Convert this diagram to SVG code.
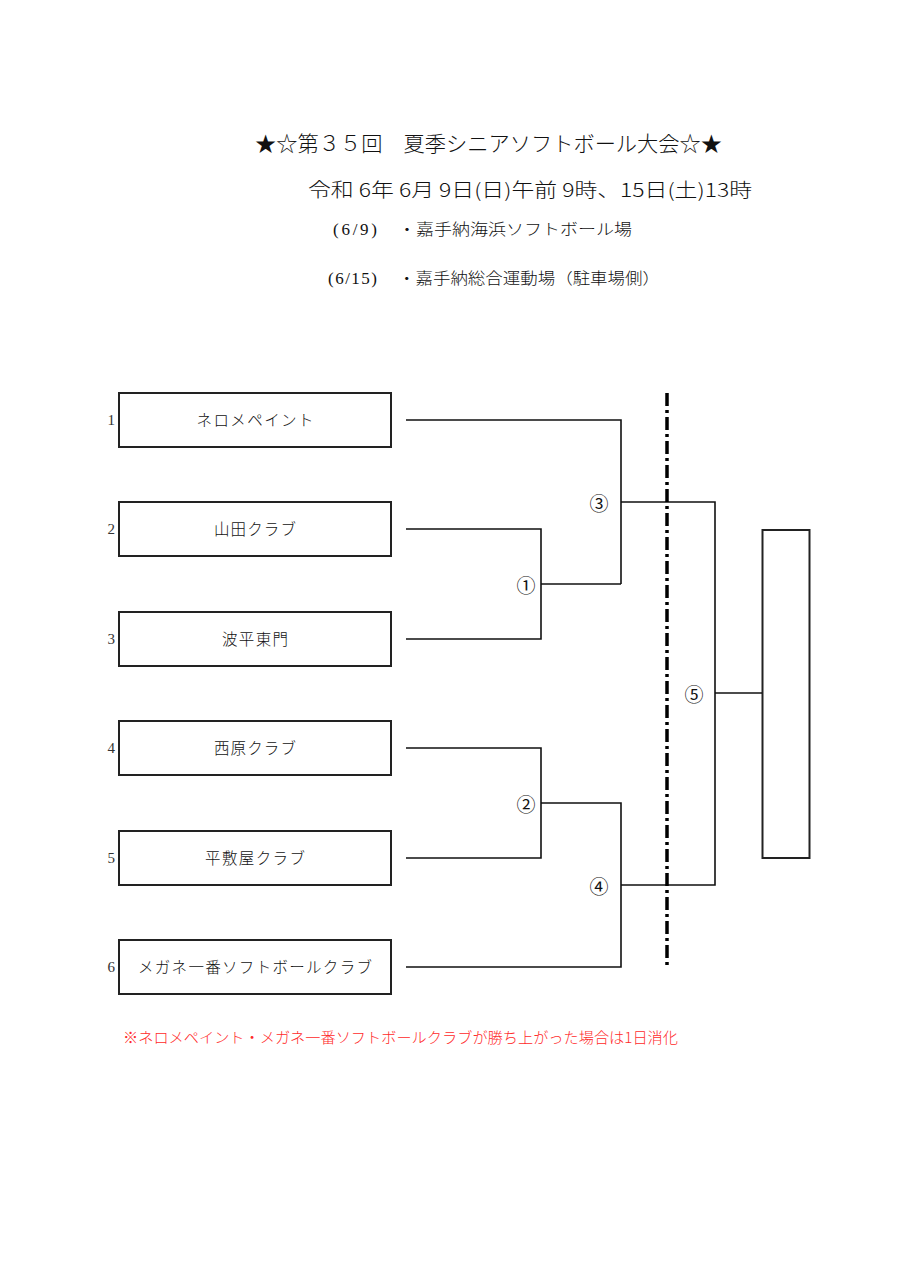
<svg xmlns="http://www.w3.org/2000/svg" width="905" height="1280" viewBox="0 0 905 1280">
<style>
text{font-family:"Liberation Serif","Noto Sans CJK JP",serif;fill:#111}
.cjk{font-family:"Noto Sans CJK JP","Liberation Serif",sans-serif;font-weight:300}
.box{fill:#fff;stroke:#222;stroke-width:2}
.name{font-size:15.5px;text-anchor:middle;dominant-baseline:central}
.seed{font-size:15px;text-anchor:end;dominant-baseline:central;fill:#333}
.lbl{font-family:"Noto Sans CJK JP",sans-serif;font-weight:400;font-size:19px;text-anchor:middle;dominant-baseline:central}
.conn{fill:none;stroke:#111;stroke-width:1.6}
</style>
<rect width="905" height="1280" fill="#fff"/>
<g id="header">
<text x="255" y="151" font-size="21" class="cjk" textLength="467" lengthAdjust="spacingAndGlyphs">★☆第３５回　夏季シニアソフトボール大会☆★</text>
<text x="308" y="197" font-size="19" class="cjk" textLength="444" lengthAdjust="spacingAndGlyphs">令和 6年 6月 9日(日)午前 9時、15日(土)13時</text>
<text x="333" y="235" font-size="17" fill="#444" textLength="44" lengthAdjust="spacing">(6/9)</text>
<text x="398" y="235" font-size="15.5" class="cjk" textLength="234" lengthAdjust="spacingAndGlyphs">・嘉手納海浜ソフトボール場</text>
<text x="328" y="284" font-size="17" fill="#444" textLength="49" lengthAdjust="spacing">(6/15)</text>
<text x="398" y="284" font-size="15.5" class="cjk" textLength="262" lengthAdjust="spacingAndGlyphs">・嘉手納総合運動場（駐車場側）</text>
</g>
<g id="team1"><text x="115" y="420" class="seed">1</text><rect x="119" y="393" width="272" height="54" class="box"/><text x="255" y="419" class="name cjk" textLength="117" lengthAdjust="spacing">ネロメペイント</text></g>
<g id="team2"><text x="115" y="529" class="seed">2</text><rect x="119" y="502" width="272" height="54" class="box"/><text x="255" y="528" class="name cjk" textLength="82" lengthAdjust="spacing">山田クラブ</text></g>
<g id="team3"><text x="115" y="639" class="seed">3</text><rect x="119" y="612" width="272" height="54" class="box"/><text x="255" y="638" class="name cjk" textLength="66" lengthAdjust="spacing">波平東門</text></g>
<g id="team4"><text x="115" y="748" class="seed">4</text><rect x="119" y="721" width="272" height="54" class="box"/><text x="255" y="747" class="name cjk" textLength="82" lengthAdjust="spacing">西原クラブ</text></g>
<g id="team5"><text x="115" y="858" class="seed">5</text><rect x="119" y="831" width="272" height="54" class="box"/><text x="255" y="857" class="name cjk" textLength="100" lengthAdjust="spacing">平敷屋クラブ</text></g>
<g id="team6"><text x="115" y="967" class="seed">6</text><rect x="119" y="940" width="272" height="54" class="box"/><text x="255" y="966" class="name cjk" textLength="234" lengthAdjust="spacing">メガネ一番ソフトボールクラブ</text></g>
<g id="final"><rect x="762.5" y="530" width="47" height="328" class="box"/></g>
<g id="connectors">
<polyline class="conn" points="406,420 621,420 621,584"/>
<polyline class="conn" points="406,529 541,529 541,639 406,639"/>
<line class="conn" x1="541" y1="584" x2="621" y2="584"/>
<polyline class="conn" points="621,502 715,502 715,885 621,885"/>
<polyline class="conn" points="406,748 541,748 541,858 406,858"/>
<polyline class="conn" points="541,803 621,803 621,967 406,967"/>
<line class="conn" x1="715" y1="693" x2="762" y2="693"/>
<line x1="667" y1="393" x2="667" y2="968" stroke="#000" stroke-width="3.5" stroke-dasharray="13,4,3,4"/>
</g>
<g id="labels">
<text x="526" y="584" class="lbl">①</text>
<text x="526" y="803" class="lbl">②</text>
<text x="599" y="502" class="lbl">③</text>
<text x="599" y="885" class="lbl">④</text>
<text x="694" y="693" class="lbl">⑤</text>
</g>
<g id="note">
<text x="123" y="1043" font-size="14.5" class="cjk" style="fill:#ff2a2a" textLength="555" lengthAdjust="spacingAndGlyphs">※ネロメペイント・メガネ一番ソフトボールクラブが勝ち上がった場合は1日消化</text>
</g>
</svg>
